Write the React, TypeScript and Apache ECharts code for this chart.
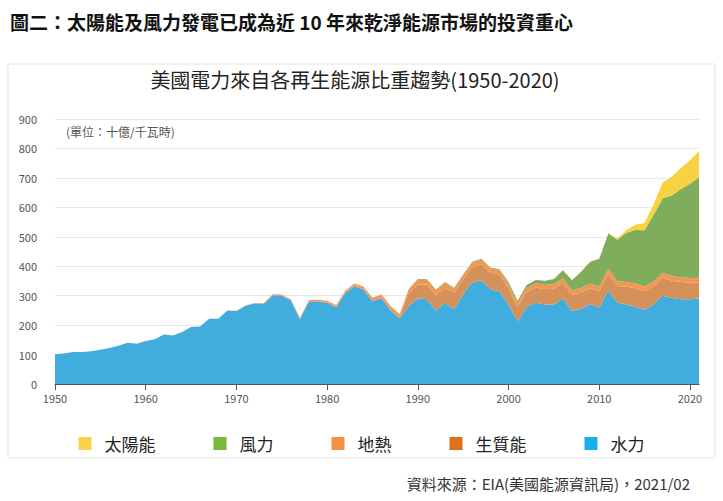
import React, { useEffect, useRef } from "react";
import * as echarts from "echarts";

const years: string[] = [];
for (let y = 1950; y <= 2021; y++) years.push(String(y));

const hydro = [101, 104, 109, 109, 111, 116, 122, 130, 140, 137, 146, 152, 168, 165, 177, 194, 195, 222, 222, 250, 248, 266, 273, 272, 301, 300, 284, 220, 280, 280, 276, 261, 309, 332, 321, 281, 291, 250, 223, 265, 290, 288, 250, 275, 255, 305, 345, 352, 322, 315, 270, 212, 262, 276, 270, 270, 290, 248, 255, 272, 260, 318, 276, 270, 262, 252, 270, 300, 292, 288, 288, 290];
const biomass = [0, 0, 0, 0, 0, 0, 0, 0, 0, 0, 0, 0, 0, 0, 0, 0, 0, 0, 0, 0, 0, 0, 0, 0, 1, 1, 1, 2, 2, 2, 2, 2, 3, 3, 3, 3, 3, 3, 3, 44, 48, 50, 52, 52, 54, 50, 52, 55, 56, 56, 55, 50, 50, 52, 52, 54, 54, 55, 56, 54, 55, 56, 57, 60, 63, 63, 62, 61, 59, 58, 56, 55];
const geothermal = [0, 0, 0, 0, 0, 0, 0, 0, 0, 0, 0, 0, 0, 0, 0, 0, 0, 0, 0, 0, 1, 1, 2, 2, 3, 3, 3, 3, 3, 4, 5, 5, 5, 6, 7, 9, 10, 11, 11, 14, 16, 16, 16, 16, 15, 14, 15, 15, 15, 15, 15, 14, 14, 14, 15, 15, 15, 15, 15, 15, 15, 17, 16, 16, 16, 16, 16, 16, 16, 16, 16, 16];
const wind = [0, 0, 0, 0, 0, 0, 0, 0, 0, 0, 0, 0, 0, 0, 0, 0, 0, 0, 0, 0, 0, 0, 0, 0, 0, 0, 0, 0, 0, 0, 0, 0, 0, 0, 0, 0, 0, 0, 0, 0, 3, 3, 3, 3, 3, 3, 3, 3, 3, 4, 6, 7, 10, 11, 14, 18, 27, 34, 55, 74, 95, 120, 141, 168, 182, 191, 227, 254, 273, 300, 320, 340];
const solar = [0, 0, 0, 0, 0, 0, 0, 0, 0, 0, 0, 0, 0, 0, 0, 0, 0, 0, 0, 0, 0, 0, 0, 0, 0, 0, 0, 0, 0, 0, 0, 0, 0, 0, 0, 0, 0, 0, 0, 0, 0, 0, 0, 0, 0, 0, 0, 0, 0, 0, 0, 0, 0, 0, 0, 1, 1, 1, 1, 1, 1, 2, 4, 9, 18, 25, 36, 53, 64, 72, 80, 90];

const names = ["太陽能", "風力", "地熱", "生質能", "水力"];
const legendColors = ["#FDD248", "#78B83C", "#F79046", "#E0711A", "#1AAEEA"];

export default function App() {
  const ref = useRef<HTMLDivElement>(null);
  useEffect(() => {
    const chart = echarts.init(ref.current!, null, { renderer: "svg" });
    const font = "'Noto Sans CJK TC', 'Noto Sans', sans-serif";
    const mk = (name: string, data: number[], color: string, areaColor: string) => ({
      name, type: "line", stack: "all", data, symbol: "none",
      lineStyle: { width: 0 }, itemStyle: { color },
      areaStyle: { color: areaColor, opacity: 1 },
    });
    chart.setOption({
      animation: false,
      textStyle: { fontFamily: font },
      graphic: [
        { type: "rect", shape: { x: 8, y: 64, width: 707, height: 394 }, style: { fill: "#fff", stroke: "#e3e3e3", lineWidth: 1 }, z: -10 },
        { type: "text", x: 10, y: 12, style: { text: "圖二：太陽能及風力發電已成為近 10 年來乾淨能源市場的投資重心", font: `bold 19px ${font}`, fill: "#111" } },
        { type: "text", x: 355, y: 79, style: { text: "美國電力來自各再生能源比重趨勢(1950-2020)", font: `20px ${font}`, fill: "#222", align: "center", verticalAlign: "middle" } },
        { type: "text", x: 66, y: 131, style: { text: "(單位：十億/千瓦時)", font: `12px ${font}`, fill: "#555", verticalAlign: "middle" } },
        { type: "text", x: 690, y: 483, style: { text: "資料來源：EIA(美國能源資訊局)，2021/02", font: `15px ${font}`, fill: "#333", align: "right", verticalAlign: "middle" } },
      ],
      legend: {
        data: names.map((n, i) => ({ name: n, itemStyle: { color: legendColors[i] } })),
        top: 430, left: "center", itemWidth: 13, itemHeight: 13, itemGap: 58,
        icon: "rect", textStyle: { fontSize: 17, color: "#222", fontFamily: font, padding: [0, 0, 0, 8] },
      },
      grid: { left: 55, right: 24, top: 119, bottom: 117 },
      xAxis: {
        type: "category", data: years, boundaryGap: false,
        axisLine: { lineStyle: { color: "#555" } },
        axisTick: { interval: (i: number) => i % 10 === 0, length: 6, lineStyle: { color: "#555" } },
        axisLabel: { interval: (i: number) => i % 10 === 0, color: "#555", fontSize: 11, margin: 8 },
      },
      yAxis: {
        type: "value", min: 0, max: 900, interval: 100,
        axisLabel: { color: "#555", fontSize: 11, margin: 18 },
        splitLine: { lineStyle: { color: "#e8e8e8" } },
        axisLine: { show: false }, axisTick: { show: false },
      },
      series: [
        mk("水力", hydro, legendColors[4], "#40ADDE"),
        mk("生質能", biomass, legendColors[3], "#D6915A"),
        mk("地熱", geothermal, legendColors[2], "#F59552"),
        mk("風力", wind, legendColors[1], "#7FAD5C"),
        mk("太陽能", solar, legendColors[0], "#F7D344"),
      ],
    });
    return () => chart.dispose();
  }, []);
  return <div ref={ref} style={{ position: "fixed", left: 0, top: 0, width: 723, height: 501, background: "#fff" }} />;
}
